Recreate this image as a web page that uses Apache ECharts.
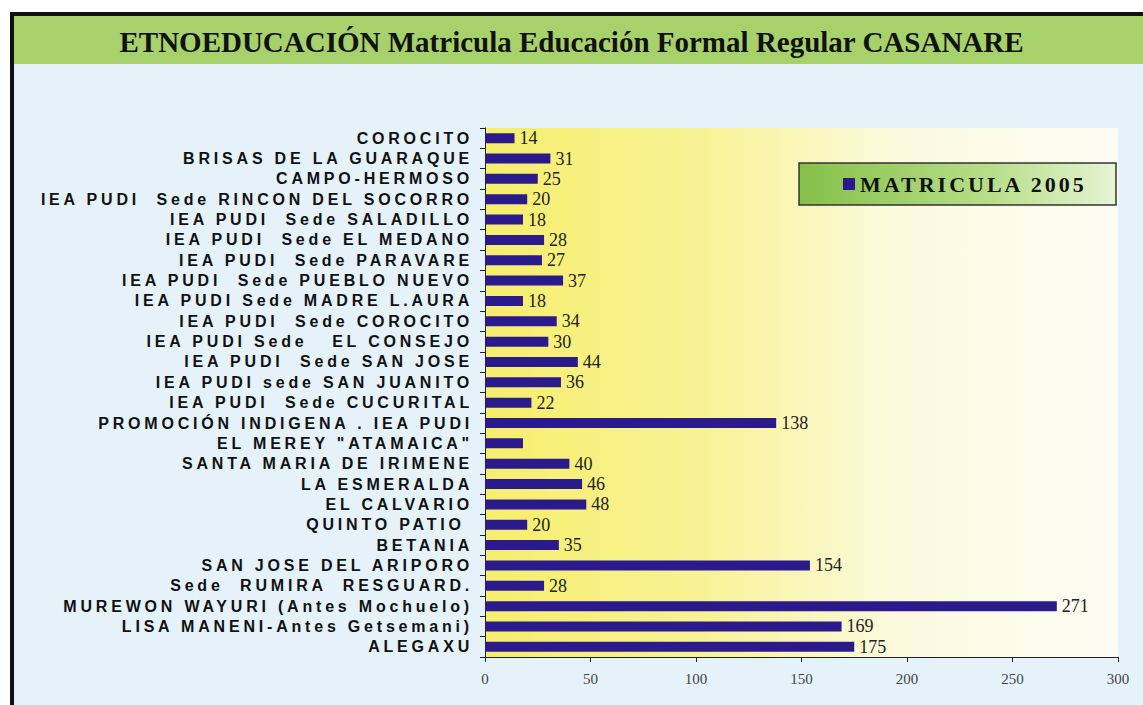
<!DOCTYPE html>
<html><head><meta charset="utf-8">
<script src="https://cdn.jsdelivr.net/npm/echarts@6/dist/echarts.min.js"></script>
<style>
html,body{margin:0;padding:0;background:#fff}#c{width:1143px;height:705px}
#c text[style*="Arimo"], #c text[font-family*="Arimo"]{letter-spacing:3.8px}
#c text[style*="Tinos"], #c text[font-family*="Tinos"]{letter-spacing:3px}
</style>
</head><body><div id="c"></div>
<script>
const titleText = 'ETNOEDUCACIÓN Matricula Educación Formal Regular CASANARE';
const seriesName = 'MATRICULA 2005';
const categories = [
  'COROCITO','BRISAS DE LA GUARAQUE','CAMPO-HERMOSO','IEA PUDI  Sede RINCON DEL SOCORRO',
  'IEA PUDI  Sede SALADILLO','IEA PUDI  Sede EL MEDANO','IEA PUDI  Sede PARAVARE',
  'IEA PUDI  Sede PUEBLO NUEVO','IEA PUDI Sede MADRE L.AURA','IEA PUDI  Sede COROCITO',
  'IEA PUDI Sede   EL CONSEJO','IEA PUDI  Sede SAN JOSE','IEA PUDI sede SAN JUANITO',
  'IEA PUDI  Sede CUCURITAL','PROMOCIÓN INDIGENA . IEA PUDI','EL MEREY "ATAMAICA"',
  'SANTA MARIA DE IRIMENE','LA ESMERALDA','EL CALVARIO','QUINTO PATIO ','BETANIA',
  'SAN JOSE DEL ARIPORO','Sede  RUMIRA  RESGUARD.','MUREWON WAYURI (Antes Mochuelo)',
  'LISA MANENI-Antes Getsemani)','ALEGAXU'
];
const values = [14,31,25,20,18,28,27,37,18,34,30,44,36,22,138,18,40,46,48,20,35,154,28,271,169,175];
const showLabel = [1,1,1,1,1,1,1,1,1,1,1,1,1,1,1,0,1,1,1,1,1,1,1,1,1,1];
const xTicks = {min:0, max:300, interval:50};

const chart = echarts.init(document.getElementById('c'), null, {renderer:'svg'});
chart.setOption({
  animation:false,
  backgroundColor:'#ffffff',
  title:{text:titleText, left:'center', top:22,
    textStyle:{fontFamily:'Times New Roman, Liberation Serif, serif', fontWeight:'bold', fontSize:29, color:'#111'}},
  graphic:[
    {type:'rect', shape:{x:10,y:12,width:1140,height:700}, style:{fill:'#111'}, z:-10},
    {type:'rect', shape:{x:14,y:16,width:1140,height:700}, style:{fill:'#e5f2f9'}, z:-9},
    {type:'rect', shape:{x:14,y:16,width:1140,height:48}, style:{fill:'#a7d16b'}, z:-8}
  ],
  legend:{
    show:true, right:27, top:163,
    padding:[10,70,10,44],
    backgroundColor:{type:'linear',x:0,y:0,x2:1,y2:0,colorStops:[{offset:0,color:'#84c048'},{offset:0.6,color:'#b7de88'},{offset:1,color:'#e6f4d4'}]},
    borderColor:'#333', borderWidth:1.5,
    itemWidth:12, itemHeight:12, itemGap:8, icon:'rect',
    textStyle:{fontFamily:'Tinos, Liberation Serif, serif', fontWeight:'bold', fontSize:22, color:'#111'}
  },
  grid:{left:485, right:25, top:128, bottom:48, show:true, borderWidth:0,
    backgroundColor:{type:'linear',x:0,y:0,x2:1,y2:0,colorStops:[{offset:0,color:'#f6ee6c'},{offset:0.35,color:'#f8f296'},{offset:0.65,color:'#fbfade'},{offset:1,color:'#fcfcf4'}]}},
  xAxis:{type:'value', min:xTicks.min, max:xTicks.max, interval:xTicks.interval,
    axisLine:{show:true, lineStyle:{color:'#222', width:1}},
    axisTick:{show:true, length:5, lineStyle:{color:'#222'}},
    splitLine:{show:false},
    axisLabel:{margin:14, color:'#444', fontSize:15, fontFamily:'Liberation Serif'}},
  yAxis:{type:'category', data:categories, inverse:true,
    axisLine:{show:true, lineStyle:{color:'#222', width:1}},
    axisTick:{show:true, length:5, lineStyle:{color:'#222'}},
    axisLabel:{interval:0, margin:12, color:'#111', fontSize:16, fontWeight:'bold', fontFamily:'Arimo, Liberation Sans, sans-serif'}},
  series:[{
    name:seriesName, type:'bar', barWidth:10,
    data:values.map((v,i)=>({value:v, label:{show:!!showLabel[i]}})),
    itemStyle:{color:'#2b1a8c'},
    label:{show:true, position:'right', distance:5, color:'#222', fontSize:18, fontFamily:'Liberation Serif'}
  }]
});
</script></body></html>
